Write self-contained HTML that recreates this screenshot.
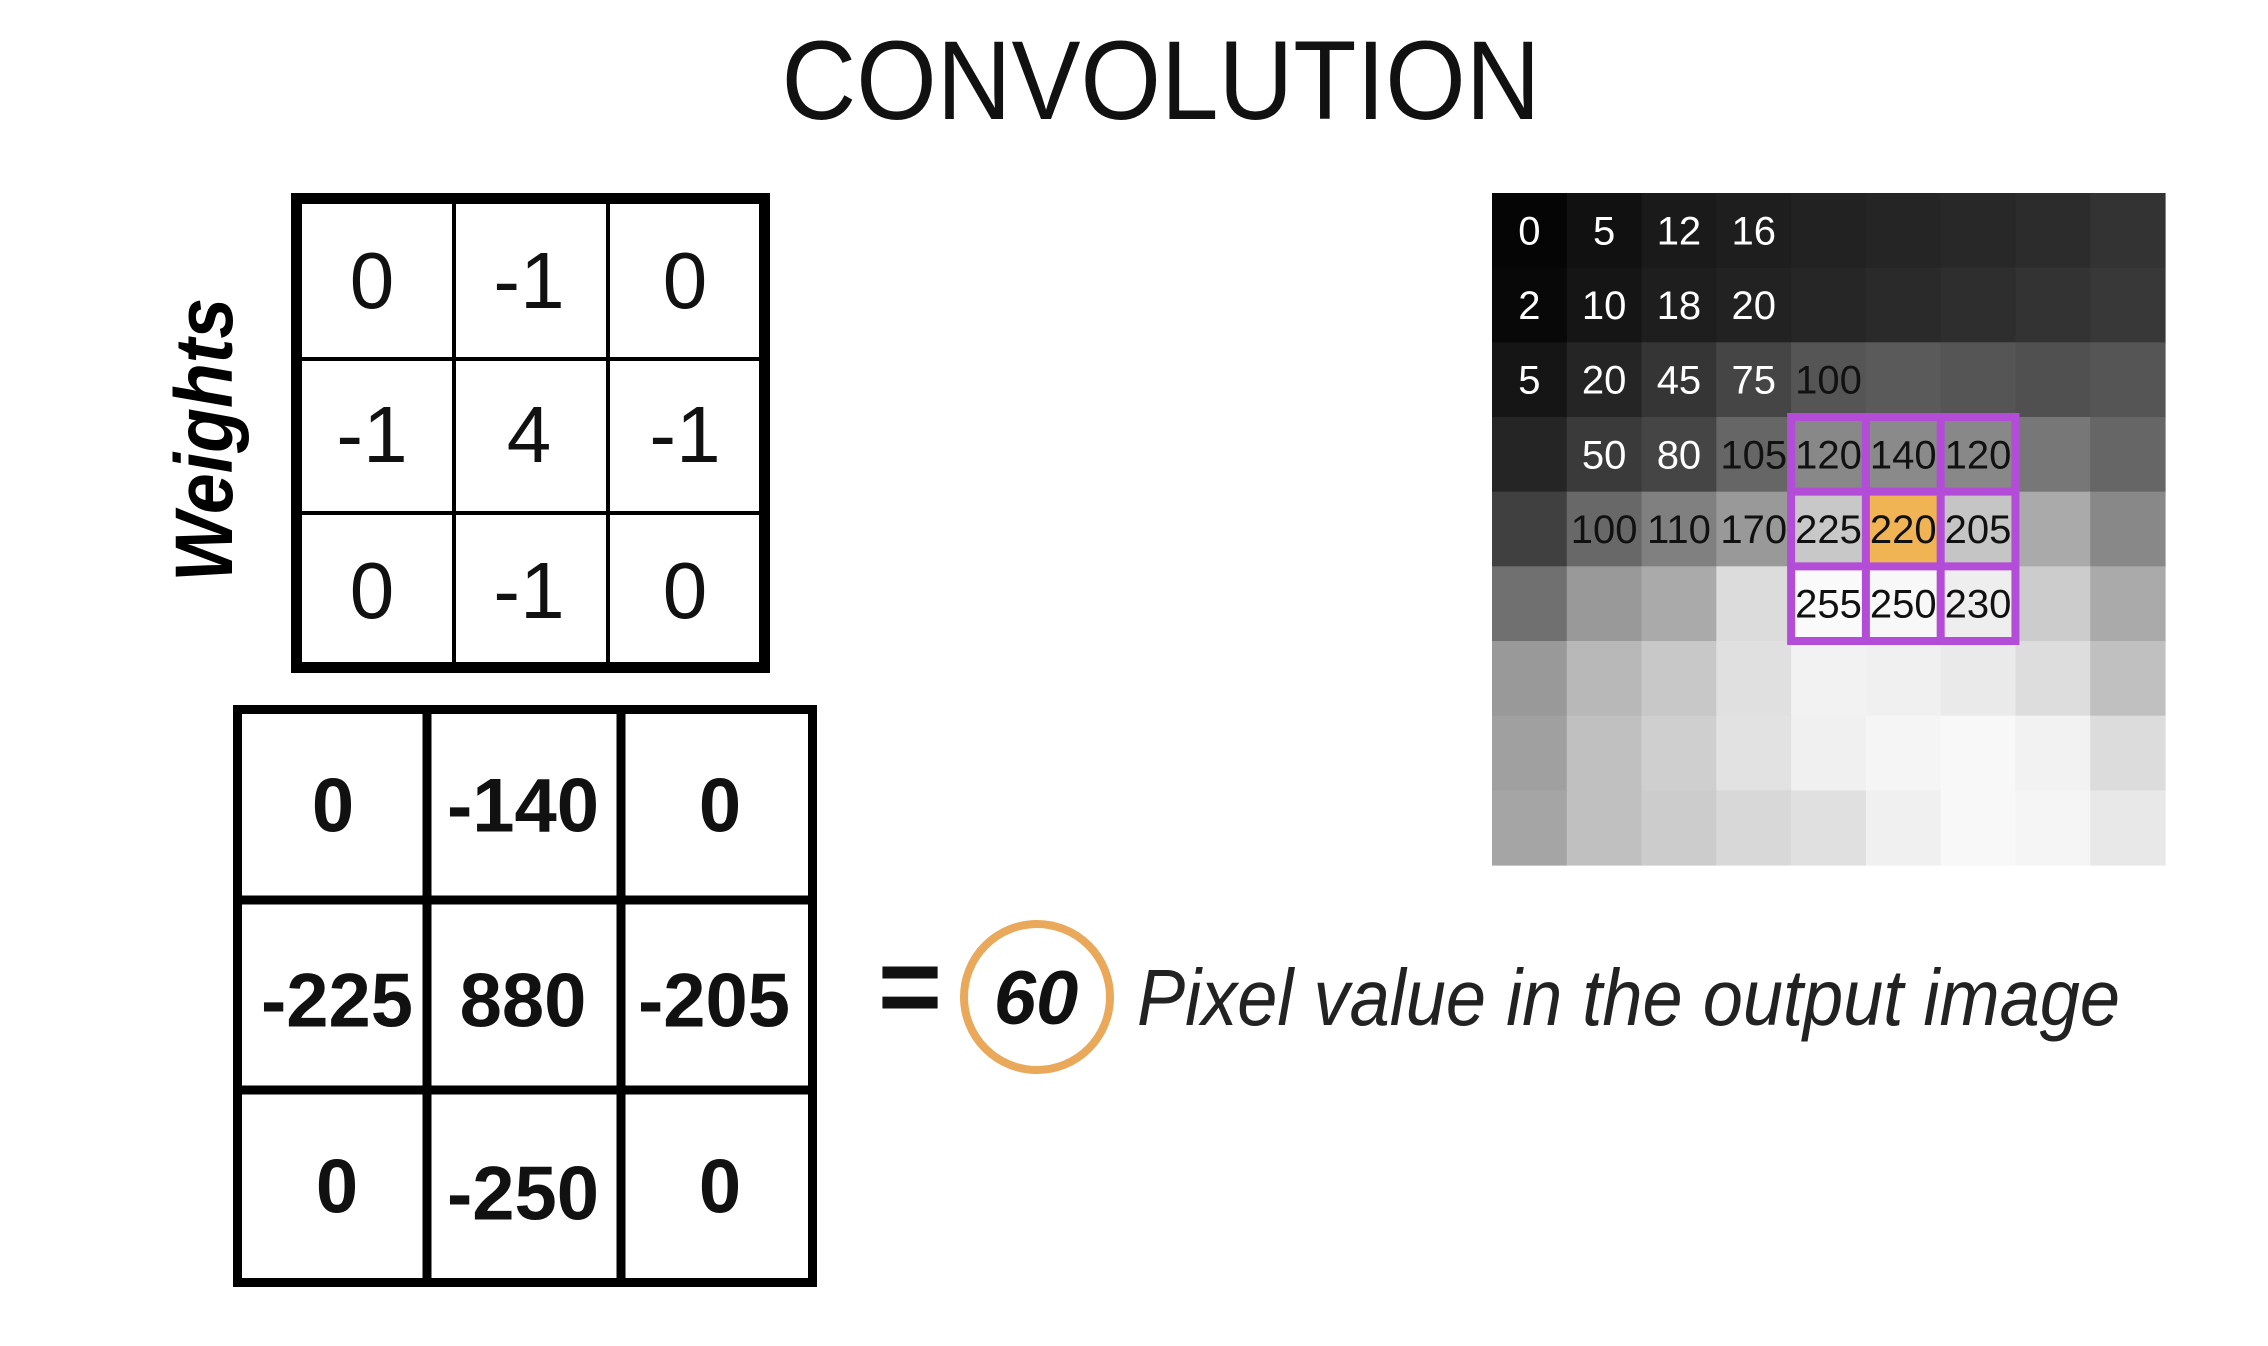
<!DOCTYPE html>
<html><head><meta charset="utf-8"><style>
html,body{margin:0;padding:0;background:#fff;}
svg{display:block;}
</style></head><body>
<svg id="root" width="2268" height="1346" viewBox="0 0 2268 1346" xmlns="http://www.w3.org/2000/svg">
<rect width="2268" height="1346" fill="#fff"/>
<text x="1161" y="119" text-anchor="middle" font-family="Liberation Sans, sans-serif" font-size="112" fill="#111" textLength="759" lengthAdjust="spacingAndGlyphs">CONVOLUTION</text>
<text transform="translate(232,440) rotate(-90)" text-anchor="middle" font-family="Liberation Sans, sans-serif" font-size="82" font-weight="bold" font-style="italic" fill="#000" textLength="284" lengthAdjust="spacingAndGlyphs">Weights</text>
<g id="weights"></g>
<g id="products"></g>
<text x="910" y="1024" text-anchor="middle" font-family="Liberation Sans, sans-serif" font-size="110" font-weight="bold" fill="#111">=</text>
<circle cx="1037" cy="997" r="73" fill="none" stroke="#e9a85a" stroke-width="8"/>
<text x="1036" y="1024" text-anchor="middle" font-family="Liberation Sans, sans-serif" font-size="76" font-weight="bold" font-style="italic" fill="#111">60</text>
<text x="1137" y="1025" font-family="Liberation Sans, sans-serif" font-size="80" font-style="italic" fill="#222" textLength="983" lengthAdjust="spacingAndGlyphs">Pixel value in the output image</text>
<g id="image"></g>
</svg>
<script>
const NS="http://www.w3.org/2000/svg";
const kernelValues=[["0","-1","0"],["-1","4","-1"],["0","-1","0"]];
const productValues=[["0","-140","0"],["-225","880","-205"],["0","-250","0"]];
const pixelGray=[
[5,17,26,30,34,37,40,44,51],
[8,21,30,34,38,42,46,51,56],
[21,37,53,69,85,90,85,80,85],
[37,58,69,102,136,138,136,119,102],
[64,104,128,153,200,0,197,170,136],
[112,153,170,220,250,248,238,204,170],
[153,184,200,224,242,240,234,221,192],
[160,192,207,226,240,245,248,242,220],
[165,192,204,216,224,240,248,245,232]];
const pixelLabels=[
["0","5","12","16","","","","",""],
["2","10","18","20","","","","",""],
["5","20","45","75","100","","","",""],
["","50","80","105","120","140","120","",""],
["","100","110","170","225","220","205","",""],
["","","","","255","250","230","",""]];
const highlightCell=[4,5];
const windowRows=[3,5], windowCols=[4,6];

function mk(tag,attrs,parent){const e=document.createElementNS(NS,tag);for(const k in attrs)e.setAttribute(k,attrs[k]);parent.appendChild(e);return e;}

function drawGrid(g,x0,y0,x1,y1,xs,ys,outer,inner,vals,cx,cy,fs,bold,name){
  mk('rect',{x:x0+outer/2,y:y0+outer/2,width:x1-x0-outer,height:y1-y0-outer,fill:'#fff',stroke:'#000','stroke-width':outer},g);
  xs.forEach(x=>{const l=mk('line',{x1:x,x2:x,y1:y0,y2:y1,stroke:'#000','stroke-width':inner},g);});
  ys.forEach(y=>{const l=mk('line',{x1:x0,x2:x1,y1:y,y2:y,stroke:'#000','stroke-width':inner},g);});
  vals.forEach((row,r)=>row.forEach((v,c)=>{
    const t=mk('text',{x:cx[r][c],y:cy[r][c]+fs*0.36,'text-anchor':'middle','font-family':'Liberation Sans, sans-serif','font-size':fs,'font-weight':bold?'bold':'normal',fill:'#111'},g);
    t.textContent=v;
    
    
  }));
}
const wg=document.getElementById('weights');
drawGrid(wg,291,193,770,673,[454,608],[359,513],11,4,kernelValues,
 [[372,529,685],[372,529,685],[372,529,685]],[[279,279,279],[433,433,433],[589,589,589]],80,false,'kernel-weight');
const pg=document.getElementById('products');
drawGrid(pg,233,705,817,1287,[427,621],[900,1090],9,9,productValues,
 [[333,523,720],[337,523,714],[337,523,720]],[[804,804,804],[999,999,999],[1185,1192,1185]],76,true,'product-value');

const ig=document.getElementById('image');
const IX=1492,IY=193,CW=673/9,CH=672/9;
const colX=c=>IX+c*CW, rowY=r=>IY+r*CH;
pixelGray.forEach((row,r)=>row.forEach((v,c)=>{
  const isHi=(r===highlightCell[0]&&c===highlightCell[1]);
  const fill=isHi?'#f0b454':`rgb(${v},${v},${v})`;
  const rc=mk('rect',{x:colX(c),y:rowY(r),width:CW+0.6,height:CH+0.6,fill:fill},ig);
  
  
}));
const wx0=colX(windowCols[0]),wx1=colX(windowCols[1]+1),wy0=rowY(windowRows[0]),wy1=rowY(windowRows[1]+1);
const win=mk('rect',{x:wx0,y:wy0,width:wx1-wx0,height:wy1-wy0,fill:'none',stroke:'#b34cd6','stroke-width':8},ig);


for(let i=1;i<3;i++){
  const lv=mk('line',{x1:colX(windowCols[0]+i),x2:colX(windowCols[0]+i),y1:wy0,y2:wy1,stroke:'#b34cd6','stroke-width':8},ig);
  
  
  const lh=mk('line',{x1:wx0,x2:wx1,y1:rowY(windowRows[0]+i),y2:rowY(windowRows[0]+i),stroke:'#b34cd6','stroke-width':8},ig);
  
  
}
pixelLabels.forEach((row,r)=>row.forEach((v,c)=>{
  if(!v)return;
  const g=pixelGray[r][c];
  const dark=(r===highlightCell[0]&&c===highlightCell[1])||g>=80;
  const t=mk('text',{x:colX(c)+CW/2,y:rowY(r)+CH/2+14,'text-anchor':'middle','font-family':'Liberation Sans, sans-serif','font-size':40,fill:dark?'#111':'#fff'},ig);
  t.textContent=v;
  
  
}));
</script>
</body></html>
